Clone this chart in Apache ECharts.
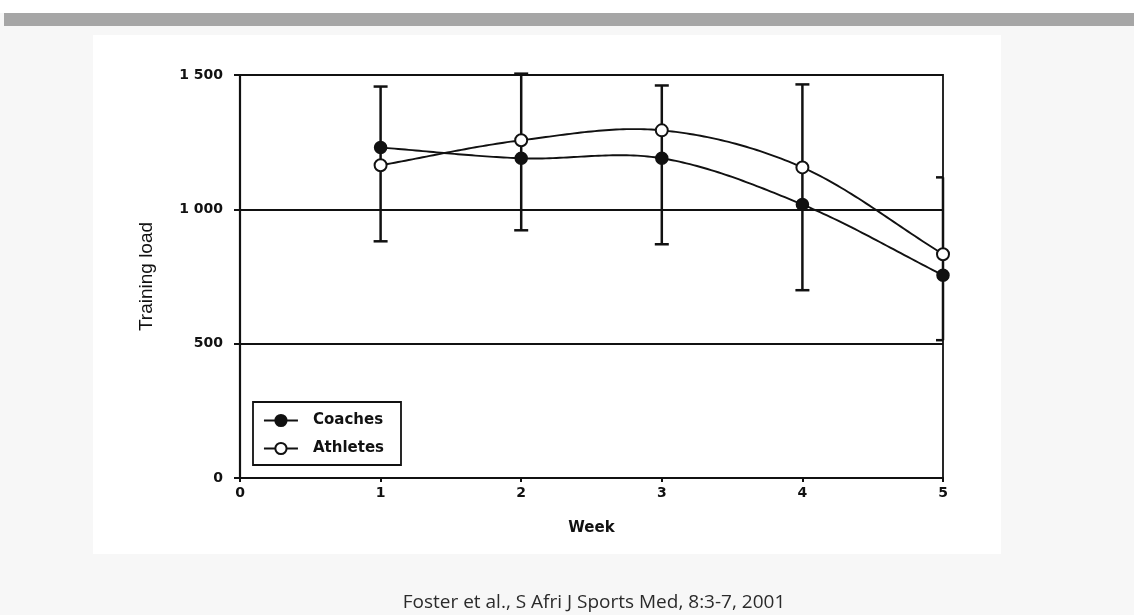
<!DOCTYPE html>
<html>
<head>
<meta charset="utf-8">
<script src="https://cdn.jsdelivr.net/npm/echarts@6/dist/echarts.min.js"></script>
<style>
html,body{margin:0;padding:0;background:#f7f7f7;}
#c{width:1134px;height:615px;}
</style>
</head>
<body>
<div id="c"></div>
<script>
const weeks = [1, 2, 3, 4, 5];
const coaches = [1230, 1190, 1190, 1018, 755];
const athletes = [1164, 1257, 1294, 1156, 833];
const errLow = [881, 922, 870, 699, 513];
const errHigh = [1457, 1505, 1461, 1465, 1119];
const yTicks = ['0', '500', '1 000', '1 500'];
const caption = 'Foster et al., S Afri J Sports Med, 8:3-7, 2001';

const chart = echarts.init(document.getElementById('c'), null, {renderer: 'canvas'});
const font = '"DejaVu Sans", "Liberation Sans", Arial, sans-serif';
const ink = '#111';

// Smooth curve through the data points, drawn in pixel space from api.coord
function curveSeries(name, vals) {
  return {
    type: 'custom', name: name, z: 4, clip: false, silent: true,
    data: weeks.map((w, i) => [w, vals[i]]),
    renderItem: function (params, api) {
      if (params.dataIndex !== 0) return null;
      const p = weeks.map((w, i) => api.coord([w, vals[i]]));
      const n = p.length;
      const m = p.map((pt, i) => {
        const a = p[Math.max(0, i - 1)], b = p[Math.min(n - 1, i + 1)];
        return (b[1] - a[1]) / (b[0] - a[0]);
      });
      const pts = [];
      for (let i = 0; i < n - 1; i++) {
        const x0 = p[i][0], x1 = p[i + 1][0], h = x1 - x0;
        for (let k = 0; k <= 40; k++) {
          const t = k / 40;
          const h00 = 2*t*t*t - 3*t*t + 1, h10 = t*t*t - 2*t*t + t;
          const h01 = -2*t*t*t + 3*t*t, h11 = t*t*t - t*t;
          const y = h00*p[i][1] + h10*h*m[i] + h01*p[i+1][1] + h11*h*m[i+1];
          pts.push([x0 + t*h, y]);
        }
      }
      return {type: 'polyline', shape: {points: pts}, style: {stroke: ink, lineWidth: 1.9, fill: null}};
    }
  };
}

chart.setOption({
  animation: false,
  backgroundColor: '#f7f7f7',
  graphic: [
    {type: 'rect', z: -10, shape: {x: 0, y: 0, width: 1134, height: 13}, style: {fill: '#ffffff'}},
    {type: 'rect', z: -10, shape: {x: 4, y: 13, width: 1130, height: 13}, style: {fill: '#a6a6a6'}},
    {type: 'rect', z: -10, shape: {x: 93, y: 35, width: 908, height: 519}, style: {fill: '#ffffff'}},
    {type: 'text', x: 594, y: 603, style: {text: caption, font: '19px "Open Sans", sans-serif', fill: '#2b2b2b', align: 'center', verticalAlign: 'middle'}}
  ],
  grid: {left: 240, top: 75, right: 191, bottom: 137, show: true, borderColor: ink, borderWidth: 1.8, backgroundColor: 'transparent'},
  legend: {
    left: 253, top: 402, orient: 'vertical',
    padding: [11, 17, 9, 10], itemGap: 13,
    borderColor: ink, borderWidth: 1.8, backgroundColor: '#fff',
    itemWidth: 34, itemHeight: 14,
    lineStyle: {color: ink, width: 1.9, opacity: 1},
    textStyle: {fontFamily: font, fontWeight: 'bold', fontSize: 15, color: ink, padding: [0, 0, 0, 10]},
    data: ['Coaches', 'Athletes']
  },
  xAxis: {
    type: 'value', min: 0, max: 5, interval: 1,
    name: 'Week', nameLocation: 'middle', nameGap: 43,
    nameTextStyle: {fontFamily: font, fontWeight: 'bold', fontSize: 15, color: ink},
    axisLine: {show: true, onZero: false, lineStyle: {color: ink, width: 2.2}},
    axisTick: {show: true, length: 4, lineStyle: {color: ink, width: 2}},
    axisLabel: {fontFamily: font, fontWeight: 'bold', fontSize: 14, color: ink, margin: 8},
    splitLine: {show: false}
  },
  yAxis: {
    type: 'value', min: 0, max: 1500, interval: 500,
    name: 'Training load', nameLocation: 'middle', nameGap: 84, nameRotate: 90,
    nameTextStyle: {fontFamily: '"Liberation Sans", Arial, sans-serif', fontSize: 19, color: ink},
    axisLine: {show: true, lineStyle: {color: ink, width: 2.2}},
    axisTick: {show: true, length: 6, lineStyle: {color: ink, width: 2}},
    axisLabel: {fontFamily: font, fontWeight: 'bold', fontSize: 14, color: ink, margin: 17,
      formatter: function (v) { return yTicks[Math.round(v / 500)]; }},
    splitLine: {show: true, lineStyle: {color: ink, width: 1.9}}
  },
  series: [
    {
      type: 'custom', name: 'err', z: 3, clip: false, silent: true,
      data: weeks.map((w, i) => [w, errLow[i], errHigh[i]]),
      renderItem: function (params, api) {
        const x = api.value(0);
        const lo = api.coord([x, api.value(1)]);
        const hi = api.coord([x, api.value(2)]);
        const half = 7;
        const right = x >= 5 ? 0 : half;
        const st = {stroke: ink, lineWidth: 2.5};
        return {type: 'group', children: [
          {type: 'line', shape: {x1: lo[0], y1: lo[1], x2: hi[0], y2: hi[1]}, style: st},
          {type: 'line', shape: {x1: hi[0] - half, y1: hi[1], x2: hi[0] + right, y2: hi[1]}, style: st},
          {type: 'line', shape: {x1: lo[0] - half, y1: lo[1], x2: lo[0] + right, y2: lo[1]}, style: st}
        ]};
      }
    },
    curveSeries('coachCurve', coaches),
    curveSeries('athleteCurve', athletes),
    {
      type: 'line', name: 'Coaches', z: 5,
      data: weeks.map((w, i) => [w, coaches[i]]),
      symbol: 'circle', symbolSize: 12, showAllSymbol: true,
      lineStyle: {color: ink, width: 1.9, opacity: 0},
      itemStyle: {color: ink, borderColor: ink, borderWidth: 1.5}
    },
    {
      type: 'line', name: 'Athletes', z: 6,
      data: weeks.map((w, i) => [w, athletes[i]]),
      symbol: 'circle', symbolSize: 12, showAllSymbol: true,
      lineStyle: {color: ink, width: 1.9, opacity: 0},
      itemStyle: {color: '#fff', borderColor: ink, borderWidth: 2}
    }
  ]
});
</script>
</body>
</html>
